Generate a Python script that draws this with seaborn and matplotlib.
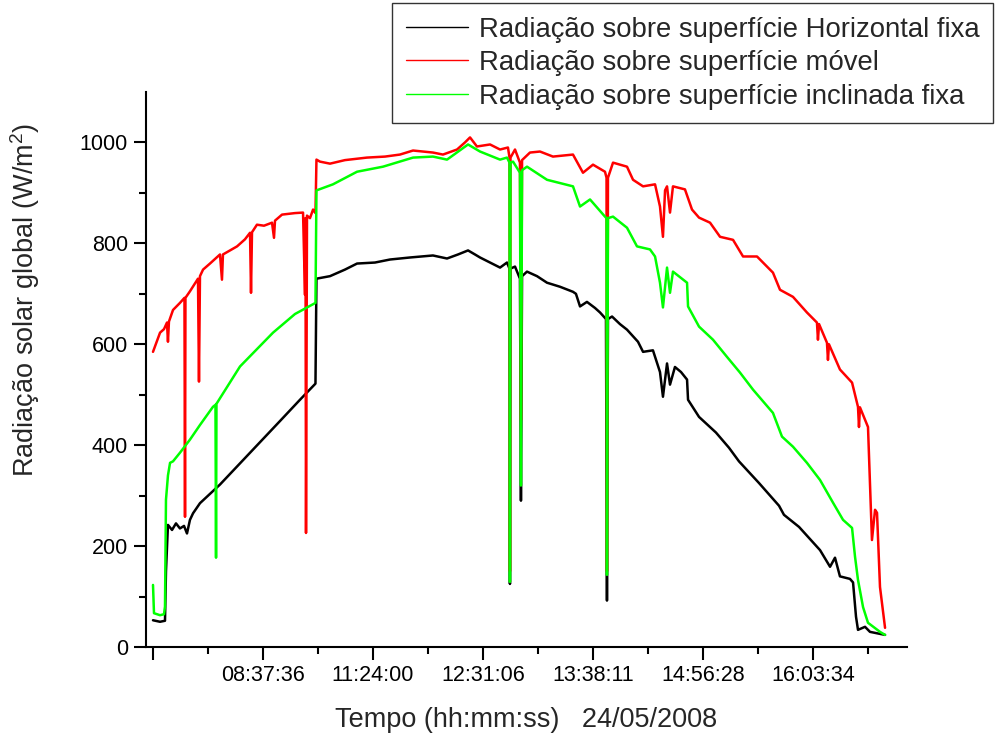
import numpy as np
import pandas as pd
import matplotlib
matplotlib.use("Agg")
import matplotlib.pyplot as plt
from matplotlib.lines import Line2D
import seaborn as sns

# ---------------- data (x in major-tick units, y in W/m2) ----------------
tick_labels = ["", "08:37:36", "11:24:00", "12:31:06", "13:38:11", "14:56:28", "16:03:34"]
series_names = ["Radiação sobre superfície Horizontal fixa",
                "Radiação sobre superfície móvel",
                "Radiação sobre superfície inclinada fixa"]
colors = ["#000000", "#ff0000", "#00ff00"]

horiz_x = [0.000, 0.064, 0.109, 0.118, 0.136, 0.173, 0.209, 0.245, 0.282, 0.309, 0.336, 0.364,
           0.427, 0.609, 0.882, 1.155, 1.336, 1.477, 1.486, 1.609, 1.745, 1.855, 2.018, 2.155,
           2.336, 2.545, 2.673, 2.773, 2.864, 2.927, 2.973, 3.064, 3.155, 3.218, 3.241, 3.245,
           3.250, 3.291, 3.336, 3.345, 3.355, 3.400, 3.491, 3.582, 3.700, 3.818, 3.845, 3.882,
           3.945, 4.018, 4.064, 4.118, 4.127, 4.136, 4.173, 4.245, 4.309, 4.409, 4.455, 4.545,
           4.609, 4.636, 4.673, 4.700, 4.745, 4.800, 4.855, 4.864, 4.964, 5.118, 5.236, 5.327,
           5.509, 5.691, 5.736, 5.873, 6.064, 6.155, 6.200, 6.245, 6.336, 6.364, 6.391, 6.409,
           6.473, 6.518, 6.655]
horiz_y = [53, 50, 52, 150, 242, 232, 245, 235, 240, 225, 252, 265,
           285, 322, 385, 448, 490, 522, 730, 735, 748, 760, 762, 768,
           772, 776, 770, 778, 786, 778, 772, 762, 752, 762, 750, 125,
           750, 754, 730, 290, 735, 744, 735, 722, 714, 704, 700, 675,
           684, 672, 663, 650, 92, 650, 655, 640, 629, 605, 585, 588,
           545, 496, 562, 520, 555, 545, 530, 490, 456, 425, 395, 368,
           325, 280, 262, 238, 192, 159, 177, 140, 135, 128, 60, 34,
           40, 30, 24]

movel_x = [0.000, 0.064, 0.100, 0.127, 0.136, 0.145, 0.182, 0.245, 0.286, 0.291, 0.295, 0.336,
           0.409, 0.418, 0.427, 0.455, 0.518, 0.609, 0.627, 0.636, 0.764, 0.836, 0.882, 0.891,
           0.900, 0.945, 1.009, 1.082, 1.100, 1.109, 1.173, 1.291, 1.364, 1.382, 1.386, 1.391,
           1.400, 1.427, 1.455, 1.477, 1.486, 1.518, 1.609, 1.745, 1.945, 2.109, 2.245, 2.364,
           2.545, 2.636, 2.764, 2.836, 2.882, 2.945, 3.064, 3.155, 3.227, 3.241, 3.245, 3.250,
           3.291, 3.336, 3.345, 3.355, 3.427, 3.518, 3.636, 3.818, 3.909, 4.000, 4.109, 4.123,
           4.127, 4.136, 4.182, 4.309, 4.364, 4.455, 4.564, 4.609, 4.636, 4.655, 4.673, 4.700,
           4.727, 4.836, 4.900, 4.964, 5.064, 5.155, 5.273, 5.364, 5.491, 5.636, 5.700, 5.818,
           5.945, 6.036, 6.045, 6.055, 6.127, 6.136, 6.145, 6.245, 6.355, 6.409, 6.418, 6.427,
           6.500, 6.536, 6.564, 6.582, 6.609, 6.655]
movel_y = [585, 623, 630, 643, 605, 645, 668, 682, 692, 258, 692, 705,
           730, 526, 735, 748, 760, 778, 728, 778, 794, 808, 821, 702,
           822, 837, 835, 841, 811, 845, 857, 860, 861, 698, 850, 226,
           855, 850, 867, 860, 966, 962, 958, 965, 970, 972, 976, 984,
           980, 976, 986, 1000, 1010, 992, 996, 986, 990, 970, 150, 970,
           986, 960, 450, 965, 980, 982, 972, 976, 940, 956, 942, 930,
           150, 930, 960, 952, 926, 913, 917, 873, 813, 905, 913, 861,
           913, 907, 867, 851, 841, 813, 807, 774, 774, 742, 708, 694,
           663, 643, 609, 640, 603, 569, 600, 550, 524, 476, 436, 475,
           436, 212, 272, 266, 119, 38]

incl_x = [0.000, 0.009, 0.064, 0.100, 0.109, 0.118, 0.136, 0.155, 0.182, 0.245, 0.336, 0.427,
          0.545, 0.568, 0.573, 0.577, 0.791, 1.091, 1.291, 1.477, 1.486, 1.636, 1.855, 2.091,
          2.364, 2.545, 2.673, 2.864, 2.973, 3.155, 3.218, 3.241, 3.245, 3.250, 3.273, 3.336,
          3.345, 3.355, 3.400, 3.582, 3.818, 3.882, 3.973, 4.109, 4.123, 4.127, 4.136, 4.182,
          4.309, 4.400, 4.518, 4.564, 4.609, 4.636, 4.673, 4.700, 4.727, 4.855, 4.864, 4.964,
          5.091, 5.218, 5.336, 5.455, 5.636, 5.718, 5.818, 5.945, 6.064, 6.182, 6.273, 6.355,
          6.382, 6.409, 6.455, 6.500, 6.609, 6.655]
incl_y = [123, 67, 63, 65, 80, 292, 340, 365, 368, 385, 411, 440,
          476, 480, 177, 482, 556, 623, 660, 682, 905, 917, 942, 952,
          970, 972, 966, 996, 982, 966, 970, 960, 129, 960, 962, 940,
          320, 945, 952, 926, 913, 873, 887, 853, 850, 143, 850, 853,
          831, 794, 788, 774, 722, 673, 752, 702, 744, 722, 675, 635,
          609, 575, 544, 510, 464, 417, 397, 365, 331, 286, 252, 236,
          179, 133, 79, 48, 30, 24]

# ---------------- build long-form table ----------------
frames = []
for name, xs, ys in zip(series_names, [horiz_x, movel_x, incl_x], [horiz_y, movel_y, incl_y]):
    frames.append(pd.DataFrame({"x": xs, "y": ys, "serie": name}))
df = pd.concat(frames, ignore_index=True)

sns.set_theme(style="ticks")
plt.rcParams["font.family"] = ["Liberation Sans", "DejaVu Sans"]
plt.rcParams["mathtext.default"] = "regular"

fig = plt.figure(figsize=(9.96, 7.33), dpi=100)
ax = fig.add_axes([146 / 996, 1 - 647 / 733, (907 - 146) / 996, (647 - 92) / 733])

sns.lineplot(data=df, x="x", y="y", hue="serie", hue_order=series_names,
             palette=colors, estimator=None, sort=False, linewidth=1.8, ax=ax, legend=False)

ax.set_xlim(-7 / 110, 754 / 110)
ax.set_ylim(0, 1100)

ax.set_xticks(range(len(tick_labels)))
ax.set_xticklabels(tick_labels)
ax.set_xticks(np.arange(0.5, 7, 1.0), minor=True)
ax.set_yticks([0, 200, 400, 600, 800, 1000])
ax.set_yticks([100, 300, 500, 700, 900], minor=True)

for s in ["top", "right"]:
    ax.spines[s].set_visible(False)
for s in ["left", "bottom"]:
    ax.spines[s].set_linewidth(1.5)
    ax.spines[s].set_color("black")

ax.tick_params(axis="both", which="major", direction="out", length=9, width=1.5,
               labelsize=15.5, colors="black", pad=4)
ax.tick_params(axis="both", which="minor", direction="out", length=5, width=1.5, colors="black")

ax.set_xlabel("Tempo (hh:mm:ss)   24/05/2008", fontsize=19.5, labelpad=15)
ax.set_ylabel("Radiação solar global (W/m$^2$)", fontsize=19.5)
ax.yaxis.set_label_coords(-0.137, 0.625)

handles = [Line2D([], [], color=c, lw=1.0) for c in colors]
leg = fig.legend(handles, series_names, loc="upper right", bbox_to_anchor=(0.997, 0.996),
                 fontsize=19.8, frameon=True, fancybox=False, edgecolor="black",
                 handlelength=2.25, handletextpad=0.4, labelspacing=0.27, borderpad=0.5,
                 borderaxespad=0.0)
leg.get_frame().set_linewidth(1.0)

fig.savefig("out.png", dpi=100)
